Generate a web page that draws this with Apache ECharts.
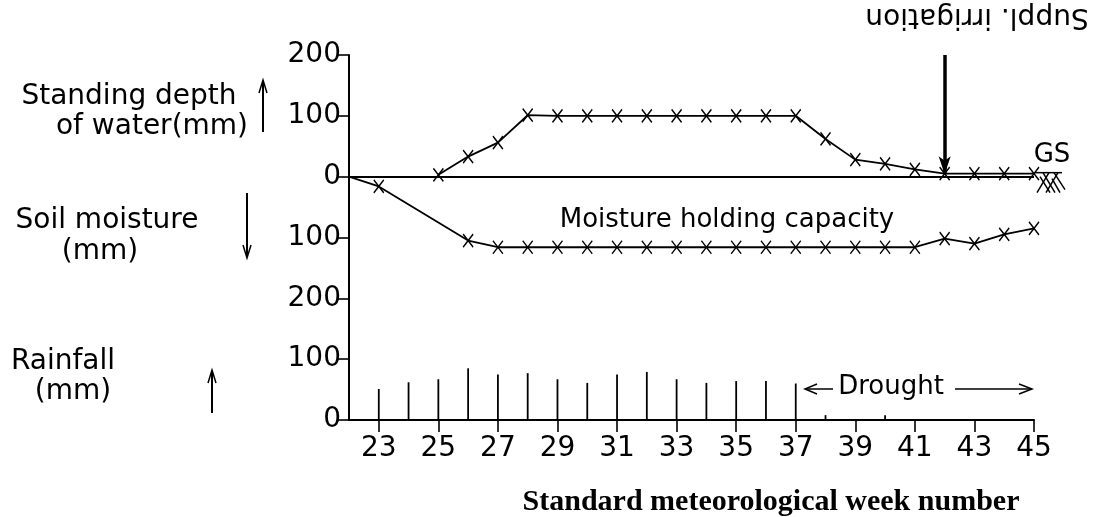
<!DOCTYPE html>
<html>
<head>
<meta charset="utf-8">
<script src="https://cdn.jsdelivr.net/npm/echarts@6/dist/echarts.min.js"></script>
<style>
html,body{margin:0;padding:0;background:#fff;}
#chart{width:1109px;height:517px;}
</style>
</head>
<body>
<div id="chart"></div>
<script>
// ---- data ----
const weeks = ['22','23','24','25','26','27','28','29','30','31','32','33','34','35','36','37','38','39','40','41','42','43','44','45'];
// rainfall per week (mm)
const rainfall = [0,51,62,67,85,75,77,67,61,75,79,67,61,64,64,60,8,0,8,0,0,0,0,0];
// standing depth of water (mm, upwards)
const waterDepth = [null,null,null,3,33,56,101,100,100,100,100,100,100,100,100,100,62,28,21,12,5,5,5,5];
// soil moisture (mm, plotted downwards)
const soilMoisture = [0,16,null,null,105,116,116,116,116,116,116,116,116,116,116,116,116,116,116,116,102,110,95,85];
// tick labels of the stacked vertical scale, bottom to top
const yTickLabels = ['0','100','200','100','0','100','200'];
const irrigationWeek = '42';
const gsWeek = '45';

const RAIN_BASE = -400;
const XMARK = 'path://M0,0L10,12M10,0L0,12';
const FONT = '"DejaVu Sans", sans-serif';

const chart = echarts.init(document.getElementById('chart'), null, {renderer:'canvas'});

const symStyle = {color:'#000', borderColor:'#000', borderWidth:1.5};

const moistureData = soilMoisture.map((v,i)=> v===null ? null : (i===0 ? {value:-v, symbol:'none'} : -v));
const rainData = [];
rainfall.forEach((v,i)=>{ if(v>0) rainData.push([i, v]); });

function txt(text, x, y, size, extra){
  return Object.assign({
    type:'text', x:x, y:y, silent:true,
    style:{text:text, fill:'#000', font: size+'px '+FONT,
           align:'center', verticalAlign:'middle', textAlign:'center', textVerticalAlign:'middle'}
  }, extra||{});
}
function line(x1,y1,x2,y2,w){
  return {type:'line', silent:true, shape:{x1:x1,y1:y1,x2:x2,y2:y2}, style:{stroke:'#000', lineWidth:w||1.5}};
}
function poly(pts,w){
  return {type:'polyline', silent:true, shape:{points:pts}, style:{stroke:'#000', fill:null, lineWidth:w||1.5}};
}

const option = {
  animation:false,
  backgroundColor:'#fff',
  grid:{left:349, right:75, top:55, bottom:97, containLabel:false},
  xAxis:{
    type:'category', data:weeks, boundaryGap:false,
    axisLine:{onZero:false, lineStyle:{color:'#000', width:2}},
    axisTick:{show:true, length:12, lineStyle:{color:'#000', width:1.6},
      interval:(idx, val)=> (parseInt(val,10)%2===1)},
    axisLabel:{color:'#000', fontFamily:FONT, fontSize:28, margin:15,
      interval:(idx, val)=> (parseInt(val,10)%2===1)},
    splitLine:{show:false}
  },
  yAxis:{
    type:'value', min:-400, max:200, interval:100,
    axisLine:{show:true, lineStyle:{color:'#000', width:2}},
    axisTick:{show:true, length:12, lineStyle:{color:'#000', width:1.6}},
    axisLabel:{color:'#000', fontFamily:FONT, fontSize:28, margin:8,
      formatter:(v)=> yTickLabels[Math.round((v+400)/100)]},
    splitLine:{show:false}
  },
  series:[
    {
      name:'Standing depth of water', type:'line', data:waterDepth,
      symbol:XMARK, symbolSize:[10,13], itemStyle:symStyle,
      lineStyle:{color:'#000', width:1.8}, connectNulls:false,
      markLine:{
        silent:true, animation:false,
        label:{show:false},
        data:[
          [{coord:[weeks[0],0], symbol:'none'},{coord:[weeks[weeks.length-1],0], symbol:'none'}],
          [{coord:[irrigationWeek,200], symbol:'none', lineStyle:{width:3.5}},
           {coord:[irrigationWeek,4], symbol:'arrow', symbolSize:[9,18]}]
        ],
        lineStyle:{color:'#000', width:2, type:'solid'}
      },
      z:3
    },
    {
      name:'Soil moisture', type:'line', data:moistureData,
      symbol:XMARK, symbolSize:[10,13], itemStyle:symStyle,
      lineStyle:{color:'#000', width:1.8}, connectNulls:true, z:3
    },
    {
      name:'Rainfall', type:'custom', data:rainData,
      renderItem:(params, api)=>{
        const p0 = api.coord([api.value(0), RAIN_BASE]);
        const p1 = api.coord([api.value(0), RAIN_BASE + api.value(1)]);
        return {type:'line', shape:{x1:p0[0], y1:p0[1], x2:p1[0], y2:p1[1]},
                style:{stroke:'#000', lineWidth:1.8}};
      },
      z:2
    },
    {
      name:'GS', type:'custom', data:[[weeks.indexOf(gsWeek), 0]], clip:false,
      renderItem:(params, api)=>{
        const c = api.coord([api.value(0), api.value(1)]);
        const x=c[0], y=c[1];
        const segs = [
          [1,-4,28,-4],[3,16,15,-4],[12,16,24,-4],[21,16,9,-4],[31,13,20,-4],[16,16,6,0],[26,16,18,2]
        ];
        return {type:'group', children: segs.map(s=>({
          type:'line', shape:{x1:x+s[0], y1:y+s[1], x2:x+s[2], y2:y+s[3]},
          style:{stroke:'#000', lineWidth:1.5}}))};
      },
      z:3
    }
  ],
  graphic:[
    // left-side labels
    txt('Standing depth', 129, 97, 28),
    txt('of water(mm)', 152, 127, 28),
    txt('Soil moisture', 107, 221, 28),
    txt('(mm)', 100, 252, 28),
    txt('Rainfall', 63, 362, 28),
    txt('(mm)', 73, 392, 28),
    // direction arrows
    line(263,132,263,82,2), poly([[259,93],[263,80],[267,93]],1.5),
    line(247,193,247,256,2), poly([[243,245],[247,258],[251,245]],1.5),
    line(212,413,212,372,2), poly([[208,383],[212,370],[216,383]],1.5),
    // in-plot annotations
    txt('Moisture holding capacity', 727, 220, 26),
    txt('Drought', 891, 387, 26),
    line(807,389,833,389,1.5), poly([[817,384],[805,389],[817,394]],1.5),
    line(955,389,1032,389,1.5), poly([[1019,384],[1032,389],[1019,394]],1.5),
    txt('GS', 1052, 155, 26),
    txt('Suppl. irrigation', 977, 16, 28, {rotation:Math.PI}),
    // x-axis title
    {type:'text', x:771, y:502, silent:true,
     style:{text:'Standard meteorological week number', fill:'#000',
            font:'bold 30px "Liberation Serif", serif',
            align:'center', verticalAlign:'middle', textAlign:'center', textVerticalAlign:'middle'}}
  ]
};
chart.setOption(option);
</script>
</body>
</html>
